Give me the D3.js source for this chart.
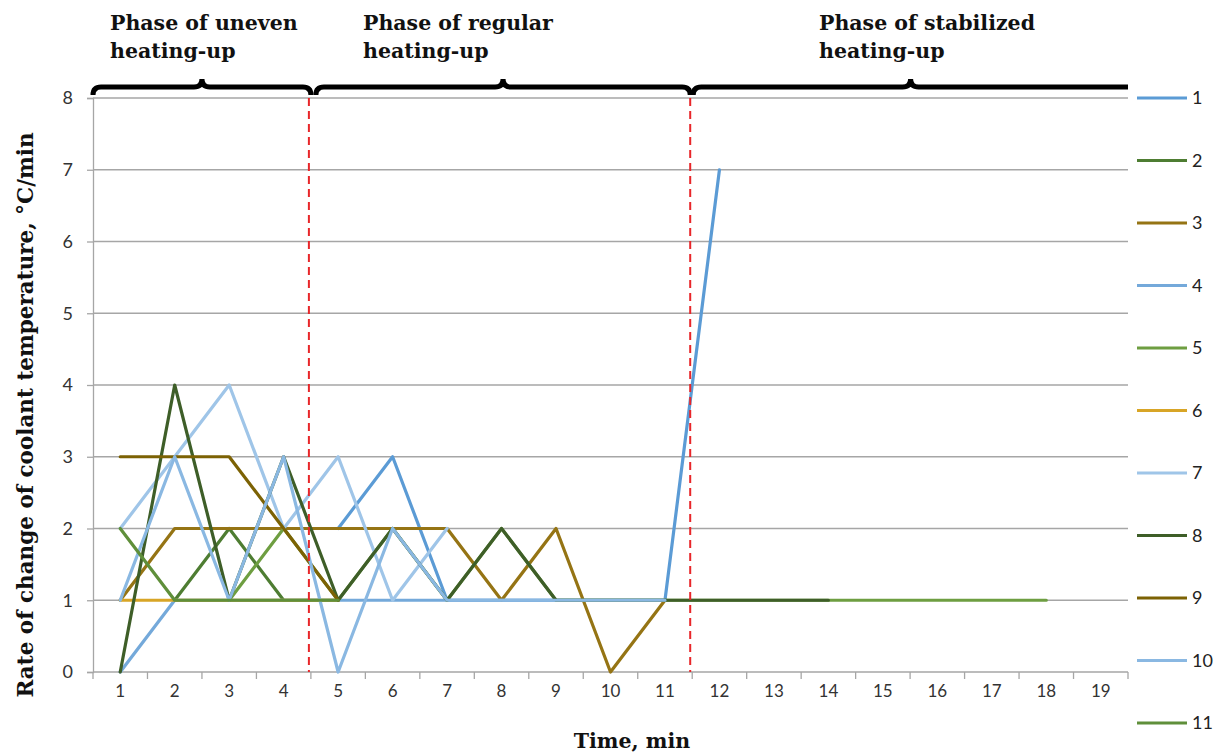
<!DOCTYPE html>
<html><head><meta charset="utf-8">
<script src="https://cdn.jsdelivr.net/npm/d3@7"></script>
<style>
body{margin:0;background:#fff;}
svg{display:block;}
</style></head>
<body>
<svg id="chart" width="1229" height="756"></svg>
<script>
// ---- data ----
const categories = [1,2,3,4,5,6,7,8,9,10,11,12,13,14,15,16,17,18,19];
const yTicks = [0,1,2,3,4,5,6,7,8];
const seriesNames = ["1","2","3","4","5","6","7","8","9","10","11"];
const s1  = [null,null,null,null,2,3,1,1,1,1,1,7];
const s2  = [null,1,2,1,1];
const s3  = [1,2,2,2,2,2,2,1,2,0,1];
const s4  = [0,1,1,1,1,1,1,1,1,1,1];
const s5  = [null,null,1,2,1,2,1,2,1,1,1,1,1,1,1,1,1,1];
const s6  = [1,1,1,1,1];
const s7  = [2,3,4,2,3,1,2];
const s8  = [0,4,1,3,1,2,1,2,1,1,1,1,1,1];
const s9  = [3,3,3,2,1];
const s10 = [1,3,1,3,0,2,1,1,1,1,1];
const s11 = [2,1,1,1,1];
const seriesValues = [s1,s2,s3,s4,s5,s6,s7,s8,s9,s10,s11];
const seriesColors = ["#5B9BD5","#4E7D32","#957414","#74A9DA","#6E9E41","#D8A526","#9FC5E8","#3E5E28","#7C6204","#8AB8E2","#5F8F3A"];
const phaseLabels = [["Phase of uneven","heating-up"],["Phase of regular","heating-up"],["Phase of stabilized","heating-up"]];
const phaseBreaks = [5,12]; // phase boundaries before these categories
const yTitle = "Rate of change of coolant temperature, \u00B0C/min";
const xTitle = "Time, min";

// ---- layout ----
const L = 93, R = 1128, T = 98, B = 672;
const svg = d3.select("#chart");
const x = d3.scaleBand(categories, [L, R]).paddingInner(0).paddingOuter(0);
const y = d3.scaleLinear([0, 8], [B, T]);
const cx = c => x(c) + x.bandwidth()/2;

// gridlines
svg.append("g").selectAll("line").data(yTicks.filter(v => v > 0)).join("line")
  .attr("x1", L).attr("x2", R).attr("y1", d => y(d)).attr("y2", d => y(d))
  .attr("stroke", "#a6a6a6").attr("stroke-width", 1.3);

// y axis
const yAxis = svg.append("g").attr("transform", `translate(${L},0)`)
  .call(d3.axisLeft(y).tickValues(yTicks).tickSize(6).tickPadding(14).tickFormat(d3.format("d")));
yAxis.select(".domain").attr("stroke", "#a6a6a6").attr("stroke-width", 1.3);
yAxis.selectAll(".tick line").attr("stroke", "#a6a6a6").attr("stroke-width", 1.3);
yAxis.selectAll("text").attr("font-family", "Lato, 'Open Sans', sans-serif").attr("font-size", 18).attr("fill", "#333");

// x axis (labels centred in bands, ticks on band boundaries)
const xAxis = svg.append("g").attr("transform", `translate(0,${B})`)
  .call(d3.axisBottom(x).tickSize(0).tickPadding(13));
xAxis.select(".domain").remove();
xAxis.selectAll("text").attr("font-family", "Lato, 'Open Sans', sans-serif").attr("font-size", 17).attr("fill", "#333");
const bounds = categories.map(c => x(c)).concat([R]);
svg.append("g").selectAll("line").data(bounds).join("line")
  .attr("x1", d => d).attr("x2", d => d).attr("y1", B).attr("y2", B + 7)
  .attr("stroke", "#a6a6a6").attr("stroke-width", 1.3);
svg.append("line").attr("x1", L).attr("x2", R).attr("y1", B).attr("y2", B)
  .attr("stroke", "#a6a6a6").attr("stroke-width", 1.3);

// series lines
const line = d3.line().defined(d => d.v != null).x(d => cx(d.c)).y(d => y(d.v));
seriesValues.forEach((vals, i) => {
  const pts = vals.map((v, j) => ({c: categories[j], v}));
  svg.append("path").datum(pts).attr("d", line)
    .attr("fill", "none").attr("stroke", seriesColors[i]).attr("stroke-width", 3.2)
    .attr("stroke-linejoin", "round").attr("stroke-linecap", "round");
});

// phase separators
const breakX = phaseBreaks.map(c => x(c) - 2);
svg.append("g").selectAll("line").data(breakX).join("line")
  .attr("x1", d => d).attr("x2", d => d).attr("y1", T).attr("y2", B)
  .attr("stroke", "#E8262A").attr("stroke-width", 2).attr("stroke-dasharray", "8,5");

// braces
const braceY = 87;
const spans = [[L, breakX[0] + 2], [breakX[0] + 7, breakX[1]], [breakX[1] + 3, R]];
function brace(x0, x1, rightCurl) {
  const xm = (x0 + x1) / 2, h = 8, r = 8;
  let p = `M${x0},${braceY + h} Q${x0},${braceY} ${x0 + r},${braceY} L${xm - r},${braceY} Q${xm},${braceY} ${xm},${braceY - h} Q${xm},${braceY} ${xm + r},${braceY}`;
  if (rightCurl) p += ` L${x1 - r},${braceY} Q${x1},${braceY} ${x1},${braceY + h}`;
  else p += ` L${x1},${braceY}`;
  return p;
}
svg.append("g").selectAll("path").data(spans).join("path")
  .attr("d", (d, i) => brace(d[0], d[1], i < 2))
  .attr("fill", "none").attr("stroke", "#000").attr("stroke-width", 5);

// phase labels
const labelX = [110, 363, 819];
phaseLabels.forEach((lines, i) => {
  const t = svg.append("text").attr("font-family", "'DejaVu Serif', serif").attr("font-weight", "bold")
    .attr("font-size", 20.5).attr("fill", "#111");
  lines.forEach((s, k) => t.append("tspan").attr("x", labelX[i]).attr("y", 30 + k * 28).text(s));
});

// axis titles
svg.append("text").attr("transform", `translate(33,${(T + B) / 2 + 30}) rotate(-90)`)
  .attr("text-anchor", "middle").attr("font-family", "'DejaVu Serif', serif").attr("font-weight", "bold")
  .attr("font-size", 21.5).attr("fill", "#111").text(yTitle);
svg.append("text").attr("x", 632).attr("y", 748).attr("text-anchor", "middle")
  .attr("font-family", "'DejaVu Serif', serif").attr("font-weight", "bold")
  .attr("font-size", 20.5).attr("fill", "#111").text(xTitle);

// legend
const lg = svg.append("g").selectAll("g").data(seriesNames).join("g")
  .attr("transform", (d, i) => `translate(1137,${98 + i * 62.5})`);
lg.append("line").attr("x1", 0).attr("x2", 50).attr("stroke", (d, i) => seriesColors[i]).attr("stroke-width", 3.2);
lg.append("text").attr("x", 55).attr("dy", "0.36em").attr("font-family", "Lato, 'Open Sans', sans-serif")
  .attr("font-size", 18).attr("fill", "#222").text(d => d);
</script>
</body></html>
